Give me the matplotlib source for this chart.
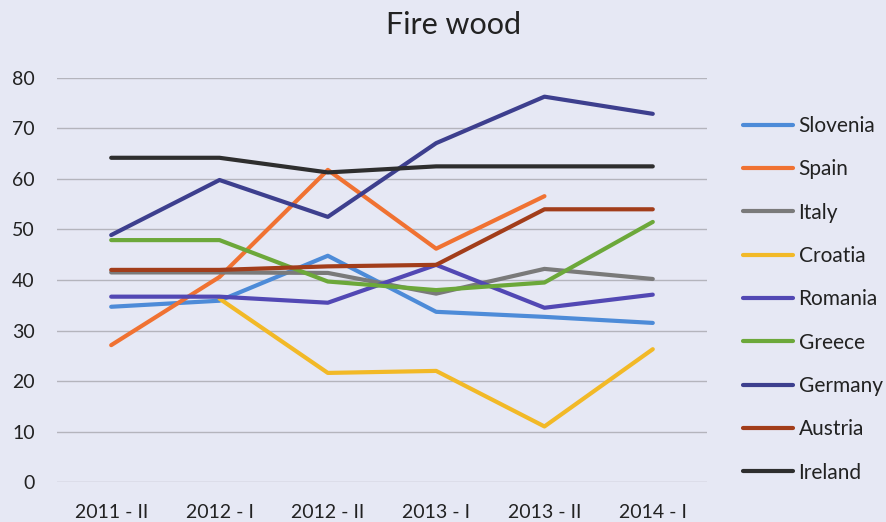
import matplotlib
matplotlib.use("Agg")
import matplotlib.pyplot as plt
import numpy as np

periods = ["2011 - II", "2012 - I", "2012 - II", "2013 - I", "2013 - II", "2014 - I"]
countries = ["Slovenia", "Spain", "Italy", "Croatia", "Romania", "Greece", "Germany", "Austria", "Ireland"]

slovenia = [34.7, 35.9, 44.8, 33.7, 32.7, 31.5]
spain = [27.1, 40.6, 61.8, 46.2, 56.6, None]
italy = [41.5, 41.5, 41.4, 37.3, 42.2, 40.2]
croatia = [None, 36.3, 21.6, 22.0, 11.0, 26.3]
romania = [36.7, 36.7, 35.5, 43.0, 34.5, 37.1]
greece = [47.9, 47.9, 39.7, 38.0, 39.5, 51.5]
germany = [48.9, 59.8, 52.5, 67.1, 76.3, 72.9]
austria = [42.0, 42.0, 42.7, 43.0, 54.0, 54.0]
ireland = [64.2, 64.2, 61.3, 62.5, 62.5, 62.5]

series = [slovenia, spain, italy, croatia, romania, greece, germany, austria, ireland]
colors = ["#4d8bd8", "#f07232", "#7a7a7a", "#f2b927", "#5248b4",
          "#6ca83a", "#3d3f8e", "#a23d1a", "#2e2e2e"]

bg = "#e6e8f4"
plt.rcParams['font.family'] = ['Lato', 'DejaVu Sans']

fig = plt.figure(figsize=(8.87, 5.22), dpi=100, facecolor=bg)
ax = fig.add_axes([0.0643, 0.0766, 0.7327, 0.774])
ax.set_facecolor(bg)

x = np.arange(len(periods))
for name, vals, c in zip(countries, series, colors):
    y = np.array([np.nan if v is None else v for v in vals], dtype=float)
    ax.plot(x, y, color=c, lw=3, label=name, solid_capstyle='round', solid_joinstyle='round')

ax.set_xlim(-0.5, len(periods) - 0.5)
ax.set_ylim(0, 80)
ax.set_yticks(range(0, 81, 10))
ax.set_xticks(x)
ax.set_xticklabels(periods)
ax.grid(axis='y', color='#b4b4bc', lw=1)
ax.set_axisbelow(True)
for s in ax.spines.values():
    s.set_visible(False)
ax.tick_params(axis='both', length=0, labelsize=14, colors='#222222')
ax.tick_params(axis='y', pad=16)
ax.tick_params(axis='x', pad=16)

fig.text(0.511, 0.952, "Fire wood", ha='center', va='center', fontsize=22, color='#222222')

fig.legend(loc='upper left', bbox_to_anchor=(0.838, 0.778), frameon=False,
           fontsize=15, handlelength=2.4, handletextpad=0.25, labelspacing=1.12,
           labelcolor='#222222', borderaxespad=0, borderpad=0)

fig.savefig("out.png", dpi=100, facecolor=bg)
